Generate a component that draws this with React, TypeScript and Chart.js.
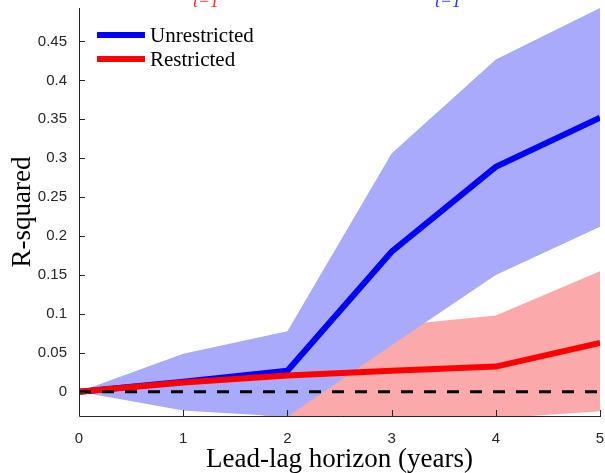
import React, { useEffect, useRef } from "react";
import { Chart, registerables } from "chart.js";

Chart.register(...registerables);

// Lead-lag horizons (years)
const horizons = [0, 1, 2, 3, 4, 5];

// Unrestricted model: point estimate and confidence band
const unrestrictedMean = [0, 0.013, 0.027, 0.18, 0.289, 0.352];
const unrestrictedUpper = [0, 0.049, 0.078, 0.306, 0.427, 0.493];
const unrestrictedLower = [0, -0.024, -0.032, 0.06, 0.15, 0.212];

// Restricted model: point estimate and confidence band
const restrictedMean = [0, 0.012, 0.021, 0.027, 0.0325, 0.063];
const restrictedUpper = [0, 0.035, 0.05, 0.085, 0.098, 0.155];
const restrictedLower = [0, -0.015, -0.035, -0.035, -0.034, -0.025];

const zeroLine = [0, 0, 0, 0, 0, 0];

const xTickValues = [0, 1, 2, 3, 4, 5];
const yTickValues = [0, 0.05, 0.1, 0.15, 0.2, 0.25, 0.3, 0.35, 0.4, 0.45];

const seriesNames = ["Unrestricted", "Restricted"];
const seriesColors = ["#0000ff", "#ff0000"];
const bandColors = ["#aaaafa", "#faaaaa"];
const subscriptText = "t\u22121";

const Y_MIN = -0.031;
const Y_MAX = 0.493;

const pts = (vals: number[]) => horizons.map((h, i) => ({ x: h, y: vals[i] }));

const fmt = (v: number) => String(Math.round(v * 100) / 100);

const decorPlugin = {
  id: "decor",
  afterDatasetsDraw(chart: any) {
    const { ctx, chartArea, scales } = chart;
    const { left, right, top, bottom } = chartArea;
    const x = scales.x;
    const y = scales.y;
    ctx.save();

    // axis lines (left and bottom only)
    ctx.strokeStyle = "#262626";
    ctx.lineWidth = 1;
    ctx.beginPath();
    ctx.moveTo(left + 0.5, top);
    ctx.lineTo(left + 0.5, bottom + 0.5);
    ctx.lineTo(right + 1, bottom + 0.5);
    ctx.stroke();

    // inward tick marks
    ctx.beginPath();
    for (const v of yTickValues) {
      const py = Math.round(y.getPixelForValue(v)) + 0.5;
      ctx.moveTo(left, py);
      ctx.lineTo(left + 6, py);
    }
    for (const v of xTickValues) {
      const px = Math.round(x.getPixelForValue(v)) + 0.5;
      ctx.moveTo(px, bottom);
      ctx.lineTo(px, bottom - 6);
    }
    ctx.stroke();

    // legend
    const legendX0 = 97;
    const legendX1 = 145;
    const legendRows = [35, 59];
    ctx.font = "21px 'Liberation Serif'";
    ctx.textBaseline = "middle";
    ctx.textAlign = "left";
    seriesNames.forEach((name, i) => {
      ctx.strokeStyle = seriesColors[i];
      ctx.lineWidth = 6;
      ctx.beginPath();
      ctx.moveTo(legendX0, legendRows[i]);
      ctx.lineTo(legendX1, legendRows[i]);
      ctx.stroke();
      ctx.fillStyle = "#000";
      ctx.fillText(name, 150, legendRows[i] + 1);
    });

    // subscripts peeking in from the panel above
    ctx.font = "italic 18px 'Liberation Serif'";
    ctx.textBaseline = "alphabetic";
    ctx.textAlign = "center";
    ctx.fillStyle = "#ff3030";
    ctx.fillText(subscriptText, 206, 7);
    ctx.fillStyle = "#3030ff";
    ctx.fillText(subscriptText, 448, 7);

    ctx.restore();
  },
};

export default function App() {
  const canvasRef = useRef<HTMLCanvasElement | null>(null);

  useEffect(() => {
    const canvas = canvasRef.current;
    if (!canvas) return;

    const lineBase = {
      pointRadius: 0,
      pointHoverRadius: 0,
      tension: 0,
    };

    const chart = new Chart(canvas, {
      type: "line",
      data: {
        datasets: [
          {
            ...lineBase,
            label: "zero",
            data: pts(zeroLine),
            borderColor: "#000",
            borderWidth: 3,
            borderDash: [12, 11],
            fill: false,
          },
          {
            ...lineBase,
            label: seriesNames[1],
            data: pts(restrictedMean),
            borderColor: seriesColors[1],
            borderWidth: 6,
            fill: false,
          },
          {
            ...lineBase,
            label: seriesNames[0],
            data: pts(unrestrictedMean),
            borderColor: seriesColors[0],
            borderWidth: 6,
            fill: false,
          },
          {
            ...lineBase,
            label: "unrestricted upper",
            data: pts(unrestrictedUpper),
            borderWidth: 0,
            borderColor: "rgba(0,0,0,0)",
            backgroundColor: bandColors[0],
            fill: "+1",
          },
          {
            ...lineBase,
            label: "unrestricted lower",
            data: pts(unrestrictedLower),
            borderWidth: 0,
            borderColor: "rgba(0,0,0,0)",
            fill: false,
          },
          {
            ...lineBase,
            label: "restricted upper",
            data: pts(restrictedUpper),
            borderWidth: 0,
            borderColor: "rgba(0,0,0,0)",
            backgroundColor: bandColors[1],
            fill: "+1",
          },
          {
            ...lineBase,
            label: "restricted lower",
            data: pts(restrictedLower),
            borderWidth: 0,
            borderColor: "rgba(0,0,0,0)",
            fill: false,
          },
        ],
      },
      options: {
        responsive: false,
        animation: false,
        events: [],
        layout: { padding: { top: 8, right: 5, left: 0, bottom: 0 } },
        plugins: {
          legend: { display: false },
          tooltip: { enabled: false },
          title: { display: false },
        },
        scales: {
          x: {
            type: "linear",
            min: 0,
            max: 5,
            afterBuildTicks: (s: any) => {
              s.ticks = xTickValues.map((v) => ({ value: v }));
            },
            afterFit: (s: any) => {
              s.height = 57;
              s.paddingLeft = 0;
              s.paddingRight = 0;
            },
            grid: { display: false, drawTicks: false },
            border: { display: false },
            ticks: {
              padding: 14,
              autoSkip: false,
              maxRotation: 0,
              color: "#262626",
              font: { family: "'Liberation Sans'", size: 15 },
              callback: (v: any) => fmt(Number(v)),
            },
            title: {
              display: true,
              text: "Lead-lag horizon (years)",
              color: "#000",
              font: { family: "'Liberation Serif'", size: 27, lineHeight: 1 },
              padding: { top: 0, bottom: 0 },
            },
          },
          y: {
            type: "linear",
            min: Y_MIN,
            max: Y_MAX,
            afterBuildTicks: (s: any) => {
              s.ticks = yTickValues.map((v) => ({ value: v }));
            },
            afterFit: (s: any) => {
              s.width = 79;
              s.paddingTop = 0;
              s.paddingBottom = 0;
            },
            grid: { display: false, drawTicks: false },
            border: { display: false },
            ticks: {
              padding: 12,
              autoSkip: false,
              color: "#262626",
              font: { family: "'Liberation Sans'", size: 15 },
              callback: (v: any) => fmt(Number(v)),
            },
            title: {
              display: true,
              text: "R-squared",
              color: "#000",
              font: { family: "'Liberation Serif'", size: 27, lineHeight: 1 },
              padding: { top: 9, bottom: 0 },
            },
          },
        },
      },
      plugins: [decorPlugin],
    });

    return () => chart.destroy();
  }, []);

  return (
    <div style={{ position: "fixed", left: 0, top: 0, width: 605, height: 473, background: "#fff" }}>
      <canvas ref={canvasRef} width={605} height={473} style={{ display: "block" }} />
    </div>
  );
}
